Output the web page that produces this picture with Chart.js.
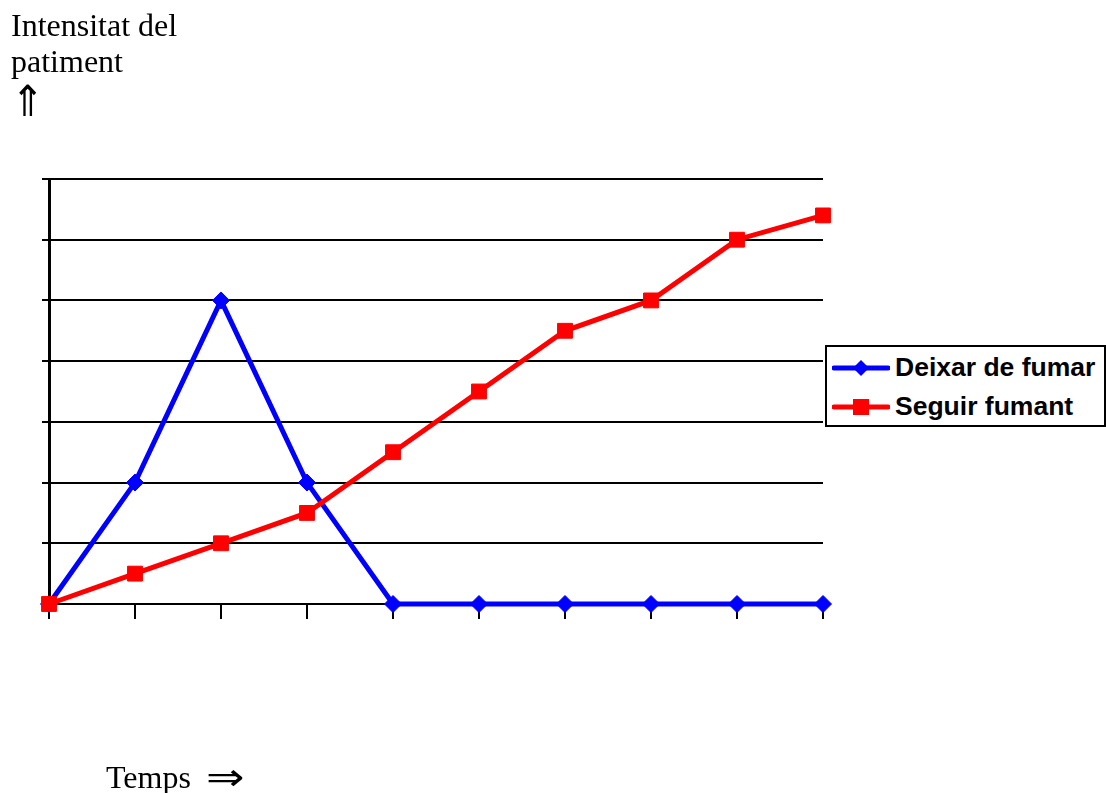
<!DOCTYPE html>
<html>
<head>
<meta charset="utf-8">
<script src="https://cdn.jsdelivr.net/npm/chart.js@4/dist/chart.umd.min.js"></script>
<style>
  html, body { margin: 0; padding: 0; background: #fff; }
  #wrap { position: relative; width: 1106px; height: 793px; overflow: hidden; }
  #chartBox { position: absolute; left: 0; top: 0; width: 1106px; height: 793px; }
  .serif { position: absolute; font-family: "Liberation Serif", "Times New Roman", serif; font-size: 32px; color: #000; white-space: nowrap; }
  #yTitle { left: 11px; top: 7px; line-height: 36px; }
  #yTitle .arrow { display: inline-block; transform-origin: left center; transform: scale(1.25, 1.35); margin-top: 4px; }
  #xTitle { left: 106px; top: 759px; line-height: 36px; }
  #xTitle .arrow { display: inline-block; margin-left: 15px; transform-origin: left center; transform: scale(1.45, 1.2); }
  #legend { position: absolute; left: 825px; top: 345px; width: 281px; height: 82px; box-sizing: border-box;
            border: 2px solid #000; background: #fff; padding-left: 5px; }
  #legend .rows { position: relative; top: 1px; }
  #legend .row { display: flex; align-items: center; height: 39px; }
  #legend svg { display: block; flex: none; }
  #legend span { font-family: "Liberation Sans", Arial, sans-serif; font-weight: bold; font-size: 26.5px; margin-left: 5px; color: #000; white-space: nowrap; }
</style>
</head>
<body>
<div id="wrap">
  <div id="chartBox"><canvas id="chart"></canvas></div>
  <div id="yTitle" class="serif">Intensitat del<br>patiment<br><span class="arrow">⇑</span></div>
  <div id="xTitle" class="serif">Temps<span class="arrow">⇒</span></div>
  <div id="legend"><div class="rows"></div></div>
</div>
<script>
// Time steps along the horizontal axis (no tick labels are shown)
const timeSteps = ['1', '2', '3', '4', '5', '6', '7', '8', '9', '10'];

// Intensity of suffering for each choice
const seriesNames = ['Deixar de fumar', 'Seguir fumant'];
const quitSmoking = [0, 2, 5, 2, 0, 0, 0, 0, 0, 0];
const keepSmoking = [0, 0.5, 1, 1.5, 2.5, 3.5, 4.5, 5, 6, 6.4];

// Vertical scale range and grid step
const yMin = 0;
const yMax = 7;
const yStep = 1;

const seriesColors = ['#0000ff', '#ff0000'];
const seriesMarkers = ['rectRot', 'rect'];
const markerRadius = [8.5, 10.5];
// The second series is painted over the first
const drawOrder = [1, 0];

const datasets = [quitSmoking, keepSmoking].map((values, i) => ({
  label: seriesNames[i],
  data: values,
  order: drawOrder[i],
  borderColor: seriesColors[i],
  backgroundColor: seriesColors[i],
  borderWidth: 5,
  pointStyle: seriesMarkers[i],
  pointRadius: markerRadius[i],
  pointBorderWidth: 1,
  pointBackgroundColor: seriesColors[i],
  pointBorderColor: seriesColors[i],
  tension: 0,
  clip: false
}));

const chart = new Chart(document.getElementById('chart'), {
  type: 'line',
  data: { labels: timeSteps, datasets },
  options: {
    responsive: true,
    maintainAspectRatio: false,
    animation: false,
    events: [],
    layout: { padding: { left: 42, right: 283, top: 179, bottom: 174 } },
    plugins: { legend: { display: false }, title: { display: false }, tooltip: { enabled: false } },
    scales: {
      x: {
        offset: false,
        ticks: { display: false },
        grid: { display: true, drawOnChartArea: false, drawTicks: true, tickLength: 15, color: '#000', lineWidth: 2 },
        border: { display: true, color: '#000', width: 2 }
      },
      y: {
        min: yMin,
        max: yMax,
        ticks: { display: false, stepSize: yStep },
        grid: { display: true, drawTicks: true, tickLength: 7, color: '#000', lineWidth: 2 },
        border: { display: true, color: '#000', width: 3 }
      }
    }
  }
});

// Legend: a line sample with the series marker, followed by the series name
const rows = document.querySelector('#legend .rows');
chart.data.datasets.forEach((ds) => {
  const row = document.createElement('div');
  row.className = 'row';
  const ns = 'http://www.w3.org/2000/svg';
  const svg = document.createElementNS(ns, 'svg');
  svg.setAttribute('width', '58');
  svg.setAttribute('height', '24');
  const line = document.createElementNS(ns, 'line');
  line.setAttribute('x1', '2'); line.setAttribute('x2', '56');
  line.setAttribute('y1', '12'); line.setAttribute('y2', '12');
  line.setAttribute('stroke', ds.borderColor);
  line.setAttribute('stroke-width', '5');
  line.setAttribute('stroke-linecap', 'round');
  svg.appendChild(line);
  let mark;
  if (ds.pointStyle === 'rectRot') {
    mark = document.createElementNS(ns, 'polygon');
    mark.setAttribute('points', '21,12 29,4 37,12 29,20');
  } else {
    mark = document.createElementNS(ns, 'rect');
    mark.setAttribute('x', '21'); mark.setAttribute('y', '4');
    mark.setAttribute('width', '16'); mark.setAttribute('height', '16');
  }
  mark.setAttribute('fill', ds.borderColor);
  svg.appendChild(mark);
  const label = document.createElement('span');
  label.textContent = ds.label;
  row.appendChild(svg);
  row.appendChild(label);
  rows.appendChild(row);
});
</script>
</body>
</html>
